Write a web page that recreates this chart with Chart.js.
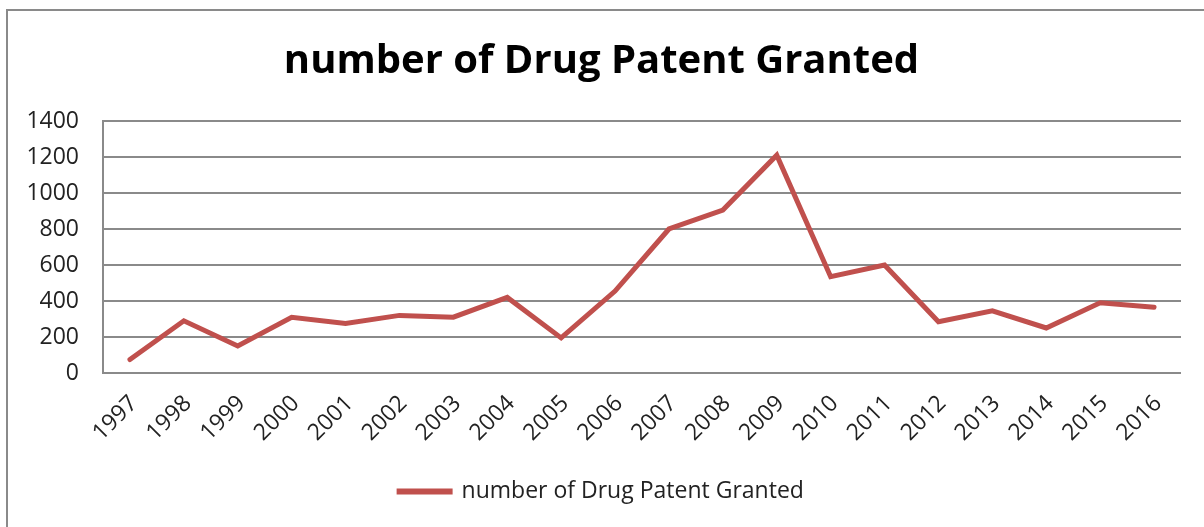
<!DOCTYPE html>
<html>
<head>
<meta charset="utf-8">
<script src="https://cdn.jsdelivr.net/npm/chart.js@4"></script>
<style>
  html, body { margin: 0; padding: 0; background: #fff; }
  #wrap { position: relative; width: 1204px; height: 527px; overflow: hidden; }
  #frame { position: absolute; left: 6px; top: 9px; width: 1300px; height: 600px;
           border-top: 2px solid #8a8a8a; border-left: 2px solid #8a8a8a; }
  canvas { position: absolute; left: 0; top: 0; }
</style>
</head>
<body>
<div id="wrap">
  <div id="frame"></div>
  <canvas id="myChart" width="1204" height="527"></canvas>
</div>
<script>
  var years = ['1997', '1998', '1999', '2000', '2001', '2002', '2003', '2004', '2005', '2006',
               '2007', '2008', '2009', '2010', '2011', '2012', '2013', '2014', '2015', '2016'];
  var patents = [75, 290, 150, 310, 275, 320, 310, 420, 195, 455,
                 800, 905, 1210, 535, 600, 285, 345, 250, 390, 365];
  var seriesName = 'number of Drug Patent Granted';

  var ctx = document.getElementById('myChart');
  var font = '"Open Sans", "Noto Sans", sans-serif';

  new Chart(ctx, {
    type: 'line',
    data: {
      labels: years,
      datasets: [{
        label: seriesName,
        data: patents,
        borderColor: '#C0504D',
        backgroundColor: '#C0504D',
        borderWidth: 5,
        pointRadius: 0,
        tension: 0,
        borderCapStyle: 'round'
      }]
    },
    options: {
      responsive: false,
      animation: false,
      layout: { padding: { left: 22, right: 23, top: 0, bottom: 14 } },
      plugins: {
        title: {
          display: true,
          text: 'number of Drug Patent Granted',
          color: '#000',
          font: { family: font, size: 40, weight: 'bold' },
          padding: { top: 38, bottom: 35 }
        },
        legend: {
          position: 'bottom',
          labels: {
            color: '#222',
            font: { family: font, size: 23 },
            boxWidth: 51,
            boxHeight: 1,
            padding: 10
          }
        },
        tooltip: { enabled: false }
      },
      scales: {
        x: {
          offset: true,
          grid: { display: false },
          border: { display: false },
          ticks: {
            color: '#222',
            font: { family: font, size: 23 },
            minRotation: 45,
            maxRotation: 45,
            padding: 9,
            labelOffset: 4
          },
          afterFit: function (scale) { scale.height = 97; }
        },
        y: {
          min: 0,
          max: 1400,
          grid: { color: '#8a8a8a', lineWidth: 2, drawTicks: false },
          border: { color: '#8a8a8a', width: 2 },
          ticks: {
            stepSize: 200,
            color: '#222',
            font: { family: font, size: 23 },
            padding: 24,
            callback: function (v) { return String(v); }
          },
          afterFit: function (scale) { scale.width = 81; }
        }
      }
    }
  });
</script>
</body>
</html>
